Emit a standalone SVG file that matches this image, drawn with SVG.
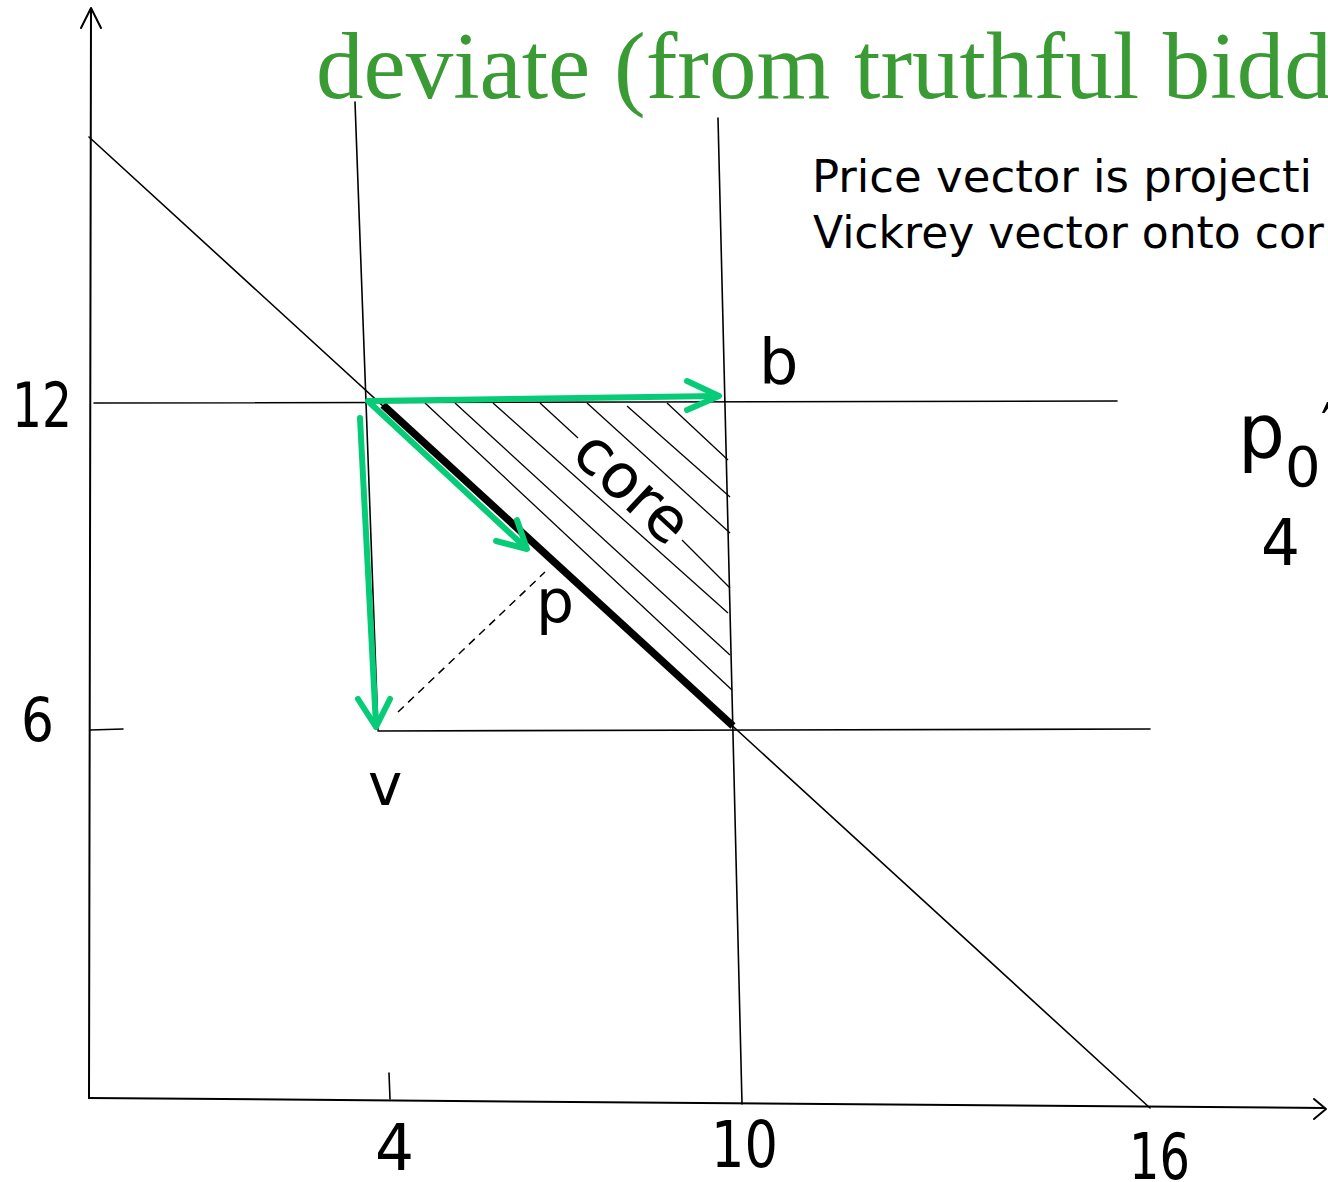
<svg xmlns="http://www.w3.org/2000/svg" width="1328" height="1182" viewBox="0 0 1328 1182">
<style>
  .thin { stroke: #000; stroke-width: 1.6; fill: none; stroke-linecap: round; }
  .axis { stroke: #000; stroke-width: 2; fill: none; stroke-linecap: round; stroke-linejoin: round; }
  .hatch { stroke: #000; stroke-width: 1.3; fill: none; }
  .green { stroke: #06cc78; stroke-width: 6; fill: none; stroke-linecap: round; stroke-linejoin: round; }
  .lbl { font-family: "Comic Sans MS", "DejaVu Sans", sans-serif; fill: #000; }
  .title { font-family: "Liberation Serif", "Times New Roman", serif; fill: #3a9b35; font-size: 95px; }
</style>
<rect width="1328" height="1182" fill="#fff"/>

<g id="title">
  <text class="title" x="316" y="98">deviate (from truthful bidd</text>
</g>

<g id="note">
  <text class="lbl" x="812" y="192" font-size="45">Price vector is projecti</text>
  <text class="lbl" x="813" y="248" font-size="44">Vickrey vector onto cor</text>
</g>

<g id="axes">
  <line class="axis" x1="91" y1="9" x2="89" y2="1098"/>
  <polyline class="axis" stroke-width="3.5" points="81,28 91,8 101,28"/>
  <line class="axis" x1="89" y1="1098" x2="1324" y2="1108"/>
  <polyline class="axis" stroke-width="3.5" points="1314,1099 1326,1109 1314,1119"/>
</g>

<g id="grid-lines">
  <line class="thin" x1="89" y1="137" x2="1150" y2="1108"/>
  <line class="thin" x1="94" y1="403" x2="1117" y2="401"/>
  <line class="thin" x1="90" y1="730" x2="123" y2="729"/>
  <line class="thin" x1="378" y1="731" x2="1150" y2="729"/>
  <line class="thin" x1="355" y1="102" x2="378" y2="730"/>
  <line class="thin" x1="718" y1="118" x2="742" y2="1104"/>
  <line class="thin" x1="389" y1="1073" x2="390" y2="1099"/>
</g>

<g id="core-hatching">
  <line class="hatch" x1="425" y1="403" x2="732" y2="690"/>
  <line class="hatch" x1="455" y1="403" x2="730" y2="655"/>
  <line class="hatch" x1="493" y1="403" x2="728" y2="613"/>
  <line class="hatch" x1="540" y1="403" x2="578" y2="438"/>
  <line class="hatch" x1="682" y1="540" x2="730" y2="588"/>
  <line class="hatch" x1="587" y1="403" x2="730" y2="533"/>
  <line class="hatch" x1="627" y1="406" x2="730" y2="497"/>
  <line class="hatch" x1="667" y1="403" x2="728" y2="460"/>
  <text class="lbl" font-size="62" text-anchor="middle" transform="translate(630,490) rotate(43)" y="17">core</text>
</g>

<g id="core-edge">
  <line stroke="#000" stroke-width="7.5" x1="383" y1="405" x2="733" y2="726"/>
</g>

<g id="connectors">
  <line stroke="#000" stroke-width="1.5" stroke-dasharray="8,6" x1="398" y1="712" x2="545" y2="572"/>
  <line class="green" x1="368" y1="401" x2="718" y2="396"/>
  <polyline class="green" points="687,381 719,396 687,410"/>
  <line class="green" x1="370" y1="403" x2="526" y2="548"/>
  <polyline class="green" points="517,520 527,549 496,541"/>
  <line class="green" x1="360" y1="418" x2="376" y2="726"/>
  <polyline class="green" points="358,699 376,727 390,699"/>
</g>

<g id="labels">
  <text class="lbl" x="12" y="427" font-size="62" textLength="60" lengthAdjust="spacingAndGlyphs">12</text>
  <text class="lbl" x="21" y="741" font-size="60" textLength="33" lengthAdjust="spacingAndGlyphs">6</text>
  <text class="lbl" x="375" y="1170" font-size="64" textLength="39" lengthAdjust="spacingAndGlyphs">4</text>
  <text class="lbl" x="711" y="1167" font-size="64" textLength="67" lengthAdjust="spacingAndGlyphs">10</text>
  <text class="lbl" x="1129" y="1179" font-size="64" textLength="61" lengthAdjust="spacingAndGlyphs">16</text>
  <text class="lbl" x="759" y="383" font-size="62">b</text>
  <text class="lbl" x="536" y="622" font-size="60">p</text>
  <text class="lbl" x="368" y="805" font-size="58">v</text>
  <text class="lbl" x="1238" y="457" font-size="74">p<tspan font-size="56" dy="29">0</tspan><tspan font-size="60" dy="-40">′</tspan></text>
  <text class="lbl" x="1261" y="565" font-size="64" textLength="39" lengthAdjust="spacingAndGlyphs">4</text>
</g>
</svg>
